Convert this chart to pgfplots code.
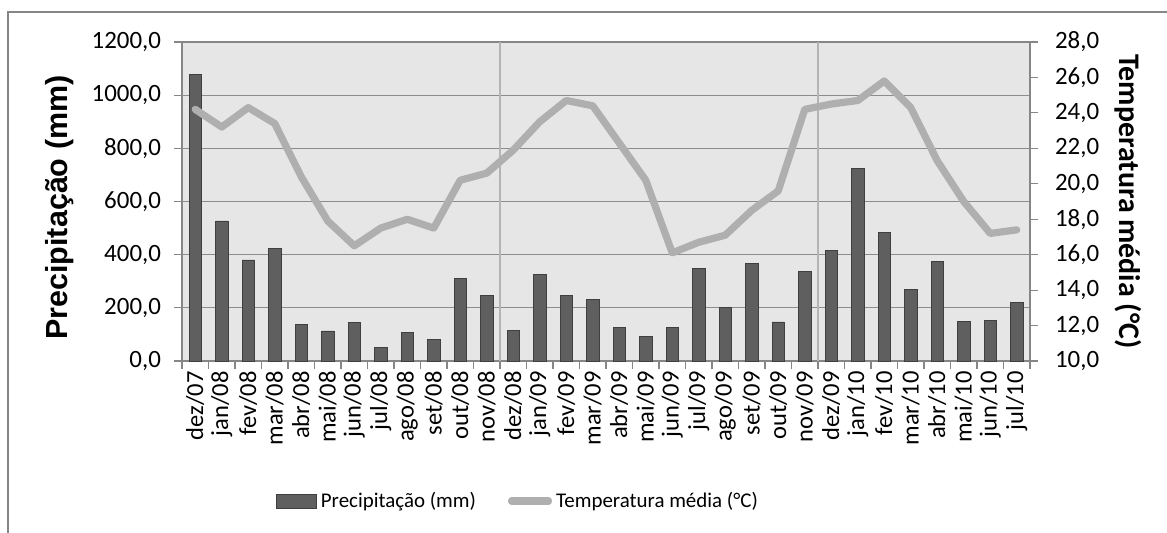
\documentclass[border=0pt]{standalone}
\usepackage{pgfplots}
\pgfplotsset{compat=1.18}
\usepackage{fontspec}
\setmainfont{Carlito}
\newfontfamily\arial{Liberation Sans}
\definecolor{barfill}{HTML}{5F5F5F}
\definecolor{barline}{HTML}{3F3F3F}
\definecolor{tline}{HTML}{AFAFAF}
\definecolor{plotbg}{HTML}{E6E6E6}
\definecolor{axisgray}{HTML}{868686}
\definecolor{gridgray}{HTML}{8C8C8C}
\definecolor{vgrid}{HTML}{B4B4B4}

\pgfplotstableread{
x prec temp
0 1078 24.2
1 527 23.2
2 380 24.3
3 424 23.4
4 138 20.4
5 113 17.9
6 144 16.5
7 51 17.5
8 109 18.0
9 82 17.5
10 310 20.2
11 248 20.6
12 115 21.9
13 324 23.5
14 248 24.7
15 233 24.4
16 125 22.3
17 91 20.2
18 125 16.1
19 349 16.7
20 202 17.1
21 367 18.5
22 147 19.6
23 336 24.2
24 415 24.5
25 724 24.7
26 484 25.8
27 270 24.3
28 376 21.3
29 150 19.0
30 154 17.2
31 219 17.4
}\datatable

\begin{document}
\begin{tikzpicture}
\path[use as bounding box] (0,0) rectangle (583.5bp,-266.5bp);
\draw[axisgray, line width=0.7bp] (4bp,-300bp) -- (4bp,-6bp) -- (600bp,-6bp);
\begin{axis}[
  at={(91bp,-21bp)}, anchor=north west,
  scale only axis, width=424bp, height=159.5bp,
  xmin=-0.5, xmax=31.5, ymin=0, ymax=1200,
  axis background/.style={fill=plotbg},
  axis line style={axisgray, line width=0.6bp},
  tick align=outside,
  major tick length=4bp,
  minor tick length=4bp,
  tick style={axisgray, line width=0.6bp},
  ytick={0,200,...,1200},
  yticklabels={{0,0},{200,0},{400,0},{600,0},{800,0},{1000,0},{1200,0}},
  ytick pos=left,
  xtick pos=lower,
  xtick={0,...,31},
  xticklabels={dez/07,jan/08,fev/08,mar/08,abr/08,mai/08,jun/08,jul/08,ago/08,set/08,out/08,nov/08,dez/08,jan/09,fev/09,mar/09,abr/09,mai/09,jun/09,jul/09,ago/09,set/09,out/09,nov/09,dez/09,jan/10,fev/10,mar/10,abr/10,mai/10,jun/10,jul/10},
  major x tick style={draw=none},
  minor xtick={-0.5,0.5,...,31.5},
  xticklabel style={rotate=90, anchor=east, font=\fontsize{12.3}{14}\selectfont, inner sep=1bp},
  yticklabel style={font=\fontsize{12.5}{14}\selectfont, xshift=-3bp},
  ymajorgrids=true,
  y grid style={gridgray, line width=0.6bp},
  extra x ticks={11.5,23.5},
  extra x tick labels={},
  extra x tick style={xmajorgrids=true, major tick length=0pt},
  x grid style={vgrid, line width=0.6bp},
  ylabel={\arial\bfseries Precipitação (mm)},
  ylabel style={at={(axis description cs:-0.1439,0.481)}, anchor=center, font=\fontsize{15.3}{18}\selectfont},
]
\addplot[ybar, bar width=6.2bp, fill=barfill, draw=barline, line width=0.4bp] table[x=x, y=prec] {\datatable};
\end{axis}
\begin{axis}[
  at={(91bp,-21bp)}, anchor=north west,
  scale only axis, width=424bp, height=159.5bp,
  xmin=-0.5, xmax=31.5, ymin=10, ymax=28,
  axis x line=none,
  axis y line*=right,
  axis line style={axisgray, line width=0.6bp, -},
  tick align=outside,
  major tick length=4bp,
  tick style={axisgray, line width=0.6bp},
  ytick={10,12,...,28},
  yticklabels={{10,0},{12,0},{14,0},{16,0},{18,0},{20,0},{22,0},{24,0},{26,0},{28,0}},
  yticklabel style={font=\fontsize{12.5}{14}\selectfont, xshift=5bp},
  ylabel={\bfseries Temperatura média (°C)},
  ylabel style={at={(axis description cs:1.1156,0.5)}, anchor=center, rotate=180, font=\fontsize{15}{18}\selectfont},
  legend style={at={(axis description cs:0.3974,-0.439)}, anchor=center, draw=none, fill=none,
    font=\fontsize{10.5}{12}\selectfont, inner sep=0pt,
    /tikz/every even column/.append style={column sep=14bp}},
  legend columns=2,
]
\addlegendimage{legend image code/.code={\draw[fill=barfill, draw=barline, line width=0.4bp] (0bp,-3.5bp) rectangle (20bp,3.5bp);}}
\addlegendentry{Precipitação (mm)}
\addplot[tline, line width=3.6bp, line join=round, line cap=round,
  legend image code/.code={\draw[tline, line width=3.6bp, line cap=round] (1.5bp,0bp) -- (20bp,0bp);}]
  table[x=x, y=temp] {\datatable};
\addlegendentry{Temperatura média (°C)}
\end{axis}
\end{tikzpicture}
\end{document}
